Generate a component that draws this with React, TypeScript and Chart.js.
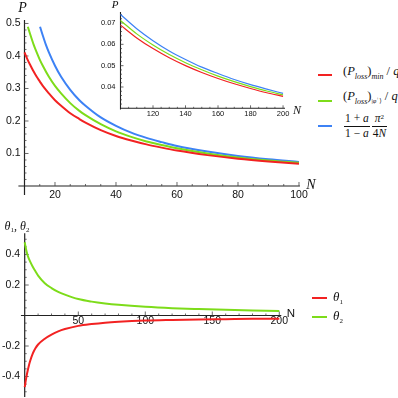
import React, { useEffect, useRef } from "react";
import { Chart, registerables } from "chart.js";
Chart.register(...registerables);

// ---------- data ----------
// top panel: P vs N
const topRedN = [10, 11, 12, 13, 14, 15, 16, 18, 20, 22, 25, 28, 30, 35, 40, 45, 50, 55, 60, 70, 80, 90, 100];
const topRed = [0.411, 0.389, 0.370, 0.352, 0.336, 0.322, 0.308, 0.285, 0.264, 0.247, 0.224, 0.206, 0.195, 0.172, 0.154, 0.140, 0.128, 0.118, 0.109, 0.095, 0.084, 0.0755, 0.0685];
const topGreenN = [11.1, 12, 13, 14, 15, 16, 18, 20, 22, 25, 28, 30, 35, 40, 45, 50, 55, 60, 70, 80, 90, 100];
const topGreen = [0.490, 0.463, 0.435, 0.411, 0.389, 0.370, 0.336, 0.308, 0.285, 0.255, 0.231, 0.218, 0.190, 0.168, 0.151, 0.137, 0.126, 0.116, 0.100, 0.088, 0.0787, 0.0712];
const topBlueN = [15.1, 16, 17, 18, 20, 22, 25, 28, 30, 35, 40, 45, 50, 55, 60, 70, 80, 90, 100];
const topBlue = [0.490, 0.463, 0.435, 0.411, 0.370, 0.336, 0.296, 0.264, 0.247, 0.211, 0.185, 0.164, 0.148, 0.135, 0.123, 0.106, 0.0925, 0.0822, 0.074];

// inset: N 100..200
const insetN = [100, 110, 120, 130, 140, 150, 160, 170, 180, 190, 200];
const insetRed = [0.0690, 0.0630, 0.0580, 0.0537, 0.0500, 0.0468, 0.0440, 0.0415, 0.0393, 0.0373, 0.0356];
const insetGreen = [0.0712, 0.0649, 0.0597, 0.0552, 0.0514, 0.0481, 0.0451, 0.0425, 0.0402, 0.0381, 0.0363];
const insetBlue = [0.0740, 0.0673, 0.0617, 0.0569, 0.0529, 0.0493, 0.0463, 0.0435, 0.0411, 0.0390, 0.0370];

// bottom panel: theta1, theta2 vs N
const botN = [10, 11, 12, 13, 14, 16, 18, 20, 25, 30, 35, 40, 50, 60, 70, 80, 100, 120, 140, 160, 180, 200];
const theta1 = [-0.470, -0.415, -0.370, -0.332, -0.300, -0.250, -0.215, -0.190, -0.152, -0.125, -0.104, -0.089, -0.068, -0.056, -0.047, -0.041, -0.033, -0.029, -0.026, -0.024, -0.022, -0.021];
const theta2 = [0.480, 0.435, 0.400, 0.375, 0.355, 0.320, 0.290, 0.262, 0.212, 0.180, 0.155, 0.137, 0.108, 0.091, 0.079, 0.070, 0.057, 0.048, 0.042, 0.037, 0.033, 0.029];

// tick labels
const topXTicks = [20, 40, 60, 80, 100];
const topYTicks = [0.1, 0.2, 0.3, 0.4, 0.5];
const insetXTicks = [120, 140, 160, 180, 200];
const insetYTicks = [0.04, 0.05, 0.06, 0.07];
const botXTicks = [50, 100, 150, 200];
const botYTicks = [-0.4, -0.2, 0.2, 0.4];

// ---------- styles ----------
const RED = "#f22222";
const GREEN = "#7ddc1a";
const BLUE = "#3d82f5";
const SERIF = '"Liberation Serif", "Times New Roman", "DejaVu Serif", serif';
const SANS = '"Liberation Sans", Arial, sans-serif';

function minorTicks(from: number, to: number, step: number, majorStep: number, skip: number[]): number[] {
  const out: number[] = [];
  const n = Math.round((to - from) / step);
  for (let k = 0; k <= n; k++) {
    const v = Math.round((from + k * step) * 1e6) / 1e6;
    const r = v / majorStep;
    if (Math.abs(r - Math.round(r)) < 1e-6) continue;
    if (skip.some((s) => Math.abs(s - v) < 1e-9)) continue;
    out.push(v);
  }
  return out;
}

type AxesOpts = {
  xOrigin: number; yOrigin: number;
  xMajor: number[]; yMajor: number[];
  xMinor: number[]; yMinor: number[];
  xFmt: (v: number) => string; yFmt: (v: number) => string;
  font: string; majorLen: number; minorLen: number;
  xLabelDy: number; yLabelGap: number; axisWidth: number;
};

function mmaAxes(o: AxesOpts) {
  return {
    id: "mmaAxes",
    beforeDatasetsDraw(chart: any) {
      const { ctx, chartArea: a } = chart;
      const xs = chart.scales.x;
      const ys = chart.scales.y;
      const ox = xs.getPixelForValue(o.xOrigin);
      const oy = ys.getPixelForValue(o.yOrigin);
      ctx.save();
      ctx.strokeStyle = "#222";
      ctx.lineWidth = o.axisWidth;
      ctx.beginPath();
      ctx.moveTo(a.left, oy);
      ctx.lineTo(a.right, oy);
      ctx.moveTo(ox, a.top);
      ctx.lineTo(ox, a.bottom);
      ctx.stroke();
      ctx.lineWidth = 0.8;
      ctx.strokeStyle = "#444";
      ctx.beginPath();
      const t = (px: number, py: number, dx: number, dy: number) => {
        ctx.moveTo(px, py);
        ctx.lineTo(px + dx, py + dy);
      };
      o.xMinor.forEach((v) => t(xs.getPixelForValue(v), oy, 0, -o.minorLen));
      o.xMajor.forEach((v) => t(xs.getPixelForValue(v), oy, 0, -o.majorLen));
      o.yMinor.forEach((v) => t(ox, ys.getPixelForValue(v), o.minorLen, 0));
      o.yMajor.forEach((v) => t(ox, ys.getPixelForValue(v), o.majorLen, 0));
      ctx.stroke();
      ctx.fillStyle = "#111";
      ctx.font = o.font;
      ctx.textAlign = "center";
      ctx.textBaseline = "middle";
      o.xMajor.forEach((v) => ctx.fillText(o.xFmt(v), xs.getPixelForValue(v), oy + o.xLabelDy));
      ctx.textAlign = "right";
      o.yMajor.forEach((v) => ctx.fillText(o.yFmt(v), ox - o.yLabelGap, ys.getPixelForValue(v)));
      ctx.restore();
    },
  };
}

function line(xsArr: number[], ysArr: number[], color: string, width: number) {
  return {
    data: xsArr.map((x, i) => ({ x, y: ysArr[i] })),
    showLine: true,
    borderColor: color,
    backgroundColor: color,
    borderWidth: width,
    pointRadius: 0,
    fill: false,
    cubicInterpolationMode: "monotone" as const,
  };
}

function makeChart(
  canvas: HTMLCanvasElement,
  datasets: any[],
  xr: [number, number],
  yr: [number, number],
  padding: { left: number; right: number; top: number; bottom: number },
  axes: AxesOpts
) {
  return new Chart(canvas, {
    type: "scatter",
    data: { datasets },
    options: {
      responsive: false,
      animation: false,
      devicePixelRatio: 1,
      events: [],
      layout: { padding },
      plugins: { legend: { display: false }, tooltip: { enabled: false } },
      scales: {
        x: { type: "linear", min: xr[0], max: xr[1], display: false },
        y: { type: "linear", min: yr[0], max: yr[1], display: false },
      },
    },
    plugins: [mmaAxes(axes) as any],
  });
}

function ChartBox(props: { left: number; top: number; width: number; height: number; make: (c: HTMLCanvasElement) => Chart }) {
  const ref = useRef<HTMLCanvasElement>(null);
  useEffect(() => {
    const c = props.make(ref.current!);
    return () => c.destroy();
  }, []);
  return (
    <canvas
      ref={ref}
      width={props.width}
      height={props.height}
      style={{ position: "absolute", left: props.left, top: props.top, width: props.width, height: props.height }}
    />
  );
}

function Lbl(props: { x: number; y: number; anchor?: "center" | "left"; style?: React.CSSProperties; children: React.ReactNode }) {
  return (
    <div
      style={{
        position: "absolute",
        left: props.x,
        top: props.y,
        transform: props.anchor === "left" ? "translate(0,-50%)" : "translate(-50%,-50%)",
        whiteSpace: "nowrap",
        lineHeight: 1,
        fontFamily: SERIF,
        color: "#111",
        ...props.style,
      }}
    >
      {props.children}
    </div>
  );
}

function Swatch(props: { x: number; y: number; w: number; color: string }) {
  return (
    <div style={{ position: "absolute", left: props.x, top: props.y - 1, width: props.w, height: 2, background: props.color }} />
  );
}

function Frac(props: { num: React.ReactNode; den: React.ReactNode }) {
  return (
    <span style={{ display: "inline-flex", flexDirection: "column", alignItems: "center", verticalAlign: "middle", margin: "0 1px" }}>
      <span style={{ padding: "0 1px 1px" }}>{props.num}</span>
      <span style={{ borderTop: "1px solid #111", padding: "1px 1px 0", alignSelf: "stretch", textAlign: "center" }}>{props.den}</span>
    </span>
  );
}

const sub: React.CSSProperties = { fontSize: 8, verticalAlign: "-0.45em", fontStyle: "italic" };

export default function App() {
  const topMake = (c: HTMLCanvasElement) =>
    makeChart(
      c,
      [line(topRedN, topRed, RED, 2), line(topGreenN, topGreen, GREEN, 2), line(topBlueN, topBlue, BLUE, 2)],
      [8, 100.3],
      [-0.028, 0.511],
      { left: 18.4, right: 20.1, top: 19.9, bottom: 9.9 },
      {
        xOrigin: 10, yOrigin: 0,
        xMajor: topXTicks, yMajor: topYTicks,
        xMinor: minorTicks(15, 100, 5, 20, []),
        yMinor: minorTicks(0.02, 0.5, 0.02, 0.1, []),
        xFmt: (v) => String(v), yFmt: (v) => v.toFixed(1),
        font: `10.5px ${SANS}`, majorLen: 4, minorLen: 2,
        xLabelDy: 9, yLabelGap: 4, axisWidth: 1.2,
      }
    );
  const insetMake = (c: HTMLCanvasElement) =>
    makeChart(
      c,
      [line(insetN, insetRed, RED, 1.2), line(insetN, insetGreen, GREEN, 1.2), line(insetN, insetBlue, BLUE, 1.2)],
      [99.7, 201.2],
      [0.0294, 0.0752],
      { left: 20, right: 15, top: 11.9, bottom: 15.4 },
      {
        xOrigin: 100, yOrigin: 0.03,
        xMajor: insetXTicks, yMajor: insetYTicks,
        xMinor: minorTicks(105, 200, 5, 20, []),
        yMinor: minorTicks(0.032, 0.074, 0.002, 0.01, []),
        xFmt: (v) => String(v), yFmt: (v) => v.toFixed(2),
        font: `7.5px ${SANS}`, majorLen: 3, minorLen: 1.5,
        xLabelDy: 5.5, yLabelGap: 5, axisWidth: 1.1,
      }
    );
  const botMake = (c: HTMLCanvasElement) =>
    makeChart(
      c,
      [line(botN, theta1, RED, 2), line(botN, theta2, GREEN, 2)],
      [7.2, 201.5],
      [-0.535, 0.54],
      { left: 20.95, right: 18.7, top: 13.15, bottom: 0.9 },
      {
        xOrigin: 10, yOrigin: 0,
        xMajor: botXTicks, yMajor: botYTicks,
        xMinor: minorTicks(20, 200, 10, 50, []),
        yMinor: minorTicks(-0.5, 0.5, 0.05, 0.2, [0]),
        xFmt: (v) => String(v), yFmt: (v) => (v < 0 ? "-" + Math.abs(v).toFixed(1) : v.toFixed(1)),
        font: `10.5px ${SANS}`, majorLen: 4, minorLen: 2,
        xLabelDy: 6, yLabelGap: 4.5, axisWidth: 1.2,
      }
    );

  return (
    <div style={{ position: "fixed", left: 0, top: 0, width: 398, height: 398, background: "#fff", overflow: "hidden" }}>
      <ChartBox left={0} top={0} width={320} height={205} make={topMake} />
      <ChartBox left={100} top={0} width={200} height={125} make={insetMake} />
      <ChartBox left={0} top={220} width={300} height={178} make={botMake} />

      {/* axis labels */}
      <Lbl x={22.5} y={8} style={{ fontSize: 14, fontStyle: "italic" }}>P</Lbl>
      <Lbl x={311} y={185} style={{ fontSize: 14, fontStyle: "italic" }}>N</Lbl>
      <Lbl x={115} y={4} style={{ fontSize: 11, fontStyle: "italic" }}>P</Lbl>
      <Lbl x={297} y={110} style={{ fontSize: 12, fontStyle: "italic" }}>N</Lbl>
      <Lbl x={17} y={227} style={{ fontSize: 12 }}>
        <i>θ</i><sub style={{ fontSize: 7, verticalAlign: "-0.3em" }}>1</sub>, <i>θ</i><sub style={{ fontSize: 7, verticalAlign: "-0.3em" }}>2</sub>
      </Lbl>
      <Lbl x={291} y={314} style={{ fontSize: 11.5, fontFamily: SANS }}>N</Lbl>

      {/* top legend */}
      <Swatch x={318} y={75} w={14} color={RED} />
      <Swatch x={318} y={101} w={14} color={GREEN} />
      <Swatch x={318} y={126} w={14} color={BLUE} />
      <Lbl x={343} y={73} anchor="left" style={{ fontSize: 12.5 }}>
        (<i>P</i><span style={sub}>loss</span>)<span style={sub}>min</span> / <i>q</i>
      </Lbl>
      <Lbl x={343} y={98} anchor="left" style={{ fontSize: 12.5 }}>
        (<i>P</i><span style={sub}>loss</span>)<span style={{ ...sub, fontSize: 6.5, fontStyle: "normal" }}>|<i>φ</i><sup style={{ fontSize: 5 }}>+</sup>⟩</span> / <i>q</i>
      </Lbl>
      <Lbl x={343} y={126} anchor="left" style={{ fontSize: 11.5 }}>
        <Frac num={<span>1 + <i>a</i></span>} den={<span>1 − <i>a</i></span>} />
        <Frac num={<span><i>π</i><sup style={{ fontSize: 7, verticalAlign: "0.5em" }}>2</sup></span>} den={<span>4<i>N</i></span>} />
      </Lbl>

      {/* bottom legend */}
      <Swatch x={312} y={298} w={15} color={RED} />
      <Swatch x={312} y={317} w={15} color={GREEN} />
      <Lbl x={333} y={298} anchor="left" style={{ fontSize: 13 }}>
        <i>θ</i><span style={{ fontSize: 7, verticalAlign: "-0.35em" }}>1</span>
      </Lbl>
      <Lbl x={333} y={317} anchor="left" style={{ fontSize: 13 }}>
        <i>θ</i><span style={{ fontSize: 7, verticalAlign: "-0.35em" }}>2</span>
      </Lbl>
    </div>
  );
}
